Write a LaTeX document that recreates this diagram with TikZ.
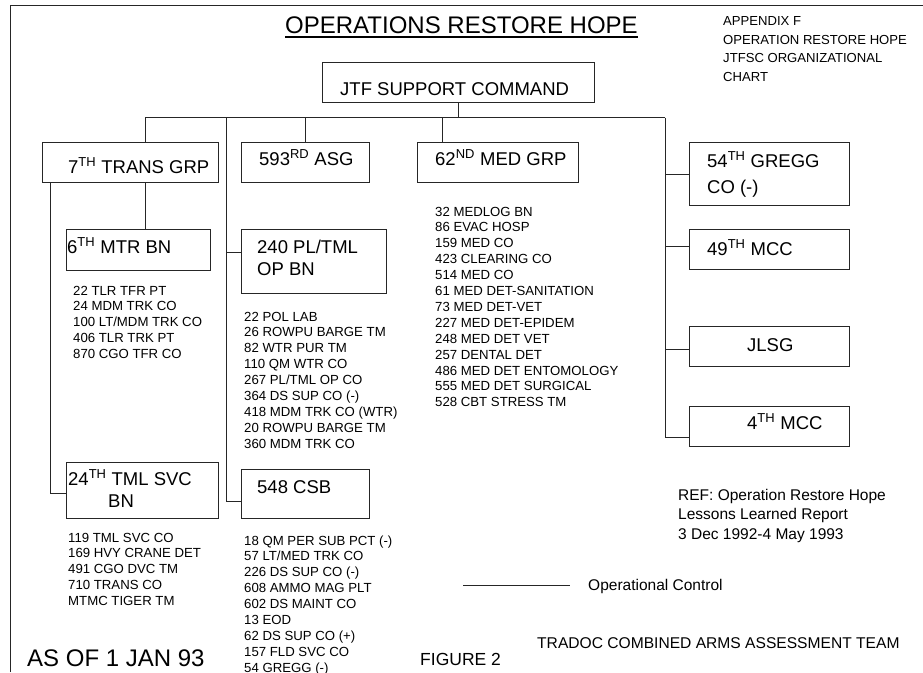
\documentclass[tikz,border=0pt]{standalone}
\usepackage{fontspec}
\setmainfont{Liberation Sans}
\usetikzlibrary{calc}
\newcommand\fsz[2]{\fontsize{#1}{#2}\selectfont}
\newcommand\stk[1]{\begin{tabular}[t]{@{}l@{}}#1\end{tabular}}
\begin{document}
\begin{tikzpicture}[x=1pt,y=-1pt,
  box/.style={draw=black!85, line width=1pt, inner sep=0pt, anchor=north west},
  lk/.style={draw=black!85, line width=1pt},
  bl/.style={font=\fsz{18.5}{22}, inner sep=0pt, anchor=base west},
  ls/.style={font=\fsz{13.2}{15.9}, inner sep=0pt, anchor=base west},
  ns/.style={font=\fsz{15.5}{19.5}, inner sep=0pt, anchor=base west},
]
\useasboundingbox (0,0) rectangle (923,672);
\fill[white] (0,0) rectangle (923,672);
% frame
\coordinate (frBL) at (10,672);
\coordinate (frTL) at (10,5);
\coordinate (frTR) at (923,5);
\draw[lk] (frBL) -- (frTL) -- (frTR);

% title
\node[font=\fsz{24}{28}, inner sep=0pt, anchor=base west] (title) at (285,33) {OPERATIONS RESTORE HOPE};
\draw[draw=black, line width=1.4pt] ([yshift=-3.8pt]title.base west) -- ([yshift=-3.8pt]title.base east);

\node[font=\fsz{13.1}{18.5}, inner sep=0pt, anchor=base west] (app) at (723,25.5)
  {\stk{APPENDIX F\\OPERATION RESTORE HOPE\\JTFSC ORGANIZATIONAL\\CHART}};

% boxes
\node[box, minimum width=272pt, minimum height=40pt] (jtf) at (322,62) {};
\node[box, minimum width=176pt, minimum height=40pt] (trans) at (42,142) {};
\node[box, minimum width=128pt, minimum height=40pt] (asg) at (241,142) {};
\node[box, minimum width=161pt, minimum height=40pt] (med) at (417,142) {};
\node[box, minimum width=160pt, minimum height=63pt] (gregg) at (689,142) {};
\node[box, minimum width=160pt, minimum height=40pt] (mcc49) at (689,229) {};
\node[box, minimum width=160pt, minimum height=40pt] (jlsg) at (689,326) {};
\node[box, minimum width=160pt, minimum height=40pt] (mcc4) at (689,406) {};
\node[box, minimum width=144pt, minimum height=41pt] (mtr) at (66,229) {};
\node[box, minimum width=145pt, minimum height=64pt] (pl) at (241,229) {};
\node[box, minimum width=152pt, minimum height=56pt] (tml) at (66,462) {};
\node[box, minimum width=128pt, minimum height=49pt] (csb) at (241,469) {};

% box labels
\node[bl] (tjtf) at (340,95) {JTF SUPPORT COMMAND};
\node[bl] (ttrans) at (68,173) {7\textsuperscript{TH} TRANS GRP};
\node[bl] (tasg) at (259,165) {593\textsuperscript{RD} ASG};
\node[bl] (tmed) at (435,165) {62\textsuperscript{ND} MED GRP};
\node[bl, font=\fsz{18.5}{26}] (tgregg) at (707,167) {\stk{54\textsuperscript{TH} GREGG\\CO (-)}};
\node[bl] (tmcc49) at (707,255) {49\textsuperscript{TH} MCC};
\node[bl] (tjlsg) at (747,351) {JLSG};
\node[bl] (tmcc4) at (747,429) {4\textsuperscript{TH} MCC};
\node[bl] (tmtr) at (67,253) {6\textsuperscript{TH} MTR BN};
\node[bl] (tpl) at (257,253) {\stk{240 PL/TML\\OP BN}};
\node[bl] (ttml) at (68,485) {\stk{24\textsuperscript{TH} TML SVC\\\hspace*{40pt}BN}};
\node[bl] (tcsb) at (257,493) {548 CSB};

% connectors
\coordinate (busL) at (145,117.5);
\coordinate (busM) at (226,117.5);
\coordinate (busMed) at (442,117.5);
\coordinate (busR) at (665,117.5);
\draw[lk] (jtf.south) -- (jtf.south |- busL);
\draw[lk] (busL) -- (busR);
\draw[lk] (busL) -- (busL |- trans.north);
\draw[lk] (asg.north) -- (asg.north |- busL);
\draw[lk] (busMed) -- (busMed |- med.north);
\draw[lk] (busM) |- ([yshift=-7.5pt]csb.west);
\draw[lk] ([yshift=9pt]pl.west) -| (busM);
\draw[lk] (busR) |- ([yshift=-11pt]mcc4.west);
\draw[lk] (gregg.west) -- (gregg.west -| busR);
\draw[lk] ([yshift=3pt]mcc49.west) -- ([yshift=3pt]mcc49.west -| busR);
\draw[lk] ([yshift=-3pt]jlsg.west) -- ([yshift=-3pt]jlsg.west -| busR);
\draw[lk] (busL |- trans.south) -- (busL |- mtr.north);
\draw[lk] ([xshift=8pt]trans.south west) |- ([yshift=-3pt]tml.west);

% lists
\node[ls] (l6) at (73,295) {\stk{22 TLR TFR PT\\24 MDM TRK CO\\100 LT/MDM TRK CO\\406 TLR TRK PT\\870 CGO TFR CO}};
\node[ls] (l240) at (244,321) {\stk{22 POL LAB\\26 ROWPU BARGE TM\\82 WTR PUR TM\\110 QM WTR CO\\267 PL/TML OP CO\\364 DS SUP CO (-)\\418 MDM TRK CO (WTR)\\20 ROWPU BARGE TM\\360 MDM TRK CO}};
\node[ls] (l62) at (435,216) {\stk{32 MEDLOG BN\\86 EVAC HOSP\\159 MED CO\\423 CLEARING CO\\514 MED CO\\61 MED DET-SANITATION\\73 MED DET-VET\\227 MED DET-EPIDEM\\248 MED DET VET\\257 DENTAL DET\\486 MED DET ENTOMOLOGY\\555 MED DET SURGICAL\\528 CBT STRESS TM}};
\node[ls] (l24) at (68,542) {\stk{119 TML SVC CO\\169 HVY CRANE DET\\491 CGO DVC TM\\710 TRANS CO\\MTMC TIGER TM}};
\node[ls] (l548) at (244,545) {\stk{18 QM PER SUB PCT (-)\\57 LT/MED TRK CO\\226 DS SUP CO (-)\\608 AMMO MAG PLT\\602 DS MAINT CO\\13 EOD\\62 DS SUP CO (+)\\157 FLD SVC CO\\54 GREGG (-)}};

% notes
\node[ns] (ref) at (678,500) {\stk{REF: Operation Restore Hope\\Lessons Learned Report\\3 Dec 1992-4 May 1993}};
\coordinate (legA) at (463,585);
\coordinate (legB) at (570,585);
\draw[lk] (legA) -- (legB);
\node[ns] (opc) at (588,590.5) {Operational Control};
\node[font=\fsz{24}{28}, inner sep=0pt, anchor=base west] (asof) at (27,666.5) {AS OF 1 JAN 93};
\node[font=\fsz{17.5}{20}, inner sep=0pt, anchor=base west] (fig) at (420,665) {FIGURE 2};
\node[font=\fsz{15.6}{19}, inner sep=0pt, anchor=base west] (trad) at (537,648) {TRADOC COMBINED ARMS ASSESSMENT TEAM};
\end{tikzpicture}
\end{document}
